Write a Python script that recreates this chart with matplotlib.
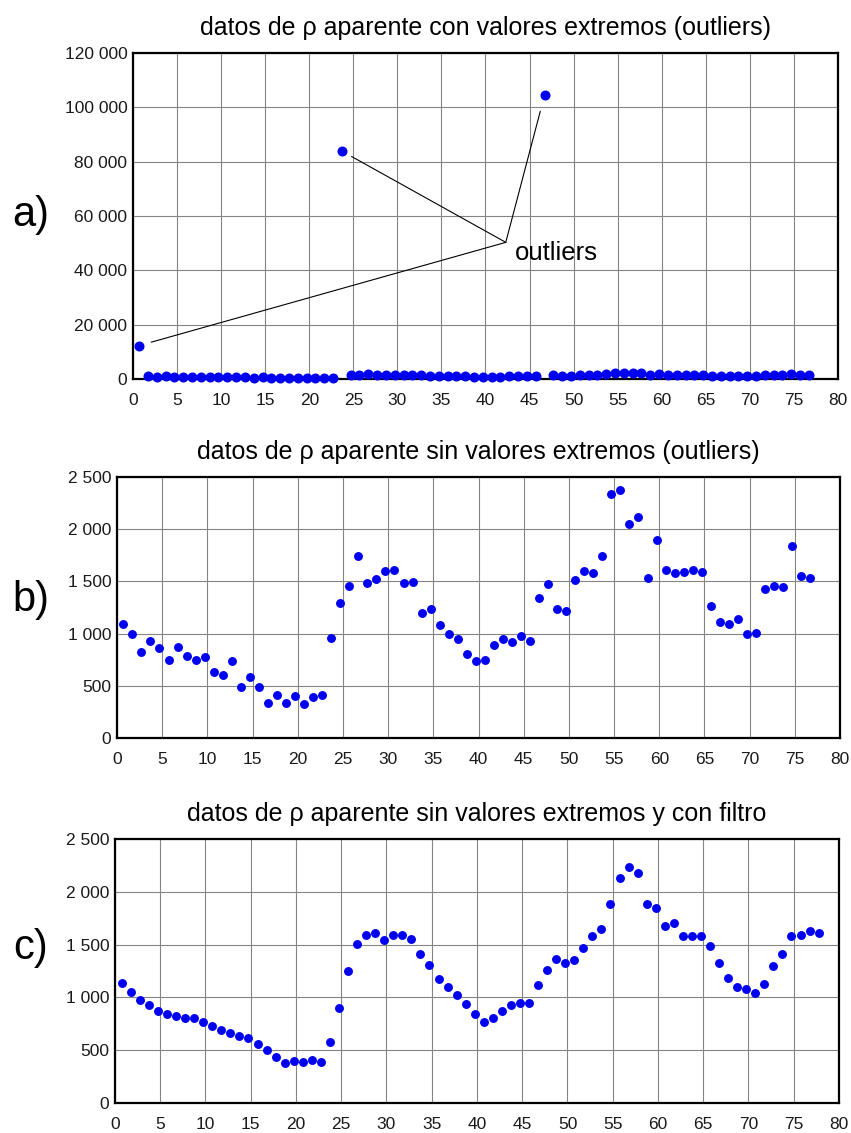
"""
Apparent resistivity series: raw, outliers removed, and filtered
"""
import numpy as np
import matplotlib
matplotlib.use("Agg")
import matplotlib.pyplot as plt
from matplotlib.ticker import FuncFormatter, MultipleLocator

plt.rcParams['font.family'] = ['Liberation Sans', 'DejaVu Sans']

# apparent resistivity without outliers (outliers replaced)
rho_clean = [
    1095, 993, 827, 932, 859, 750, 868, 785, 744, 779,
    635, 600, 734, 485, 587, 485, 338, 412, 332, 405,
    322, 393, 415, 961, 1293, 1459, 1747, 1488, 1526, 1600,
    1612, 1482, 1494, 1197, 1236, 1086, 996, 952, 801, 734,
    747, 894, 952, 923, 977, 929, 1344, 1475, 1236, 1220,
    1517, 1600, 1584, 1747, 2340, 2379, 2050, 2117, 1533, 1900,
    1609, 1584, 1593, 1606, 1593, 1268, 1108, 1092, 1143, 996,
    1006, 1424, 1456, 1443, 1836, 1552, 1533,
]

# the raw series: same samples, with the extreme readings
outlier_idx = [1, 24, 47]
outlier_val = [12300, 83900, 104500]

# filtered series
rho_filtered = [
    1134, 1049, 973, 929, 873, 844, 828, 803, 803, 765,
    728, 687, 661, 636, 614, 558, 498, 432, 378, 400,
    387, 406, 384, 576, 898, 1247, 1506, 1594, 1613, 1547,
    1594, 1588, 1550, 1411, 1310, 1175, 1102, 1021, 936, 838,
    769, 806, 873, 929, 948, 948, 1115, 1263, 1364, 1329,
    1351, 1471, 1581, 1644, 1881, 2133, 2237, 2180, 1884, 1843,
    1673, 1701, 1581, 1581, 1578, 1490, 1326, 1184, 1102, 1084,
    1046, 1131, 1298, 1414, 1581, 1591, 1632, 1610,
]

TITLES = [
    "datos de ρ aparente con valores extremos (outliers)",
    "datos de ρ aparente sin valores extremos (outliers)",
    "datos de ρ aparente sin valores extremos y con filtro",
]
LETTERS = ["a)", "b)", "c)"]
DOT = "#0000f0"


def thousands(value, _pos):
    """format ticks as 120 000"""
    return "{:,}".format(int(value)).replace(",", " ")


def style_axes(ax, ymax, ystep, title):
    """grid, spines and ticks shared by all three panels"""
    ax.set_xlim(0, 80)
    ax.set_ylim(0, ymax)
    ax.xaxis.set_major_locator(MultipleLocator(5))
    ax.yaxis.set_major_locator(MultipleLocator(ystep))
    ax.yaxis.set_major_formatter(FuncFormatter(thousands))
    ax.grid(True, color="#858585", linewidth=0.8)
    ax.set_axisbelow(True)
    for spine in ax.spines.values():
        spine.set_linewidth(1.6)
    ax.tick_params(axis="both", length=0, labelsize=12.5, colors="#1a1a1a")
    ax.tick_params(axis="x", pad=10)
    ax.tick_params(axis="y", pad=4)
    ax.set_title(title, fontsize=18, pad=13)


fig = plt.figure(figsize=(8.51, 11.33), dpi=100)
ax_a = fig.add_axes([0.1563, 0.6655, 0.8284, 0.2877])
ax_b = fig.add_axes([0.1375, 0.3486, 0.8496, 0.2304])
ax_c = fig.add_axes([0.1351, 0.0265, 0.8508, 0.2330])

# sample positions along the profile
x_clean = np.arange(1, len(rho_clean) + 1) - 0.3
x_filt = np.arange(1, len(rho_filtered) + 1) - 0.25

rho_raw = list(rho_clean)
for idx, val in zip(outlier_idx, outlier_val):
    rho_raw[idx - 1] = val

# a) raw data
ax_a.plot(x_clean, rho_raw, "o", color=DOT, markersize=6.2, zorder=3,
          clip_on=False)
style_axes(ax_a, 120000, 20000, TITLES[0])

# lines from the label to each outlier
hub = (42.3, 50300)
for idx, val, shrink in zip(outlier_idx, outlier_val, [9, 8, 12]):
    ax_a.annotate("", xy=(x_clean[idx - 1], val), xytext=hub,
                  arrowprops=dict(arrowstyle="-", color="black", lw=0.8,
                                  shrinkA=0, shrinkB=shrink))
ax_a.text(43.3, 46500, "outliers", fontsize=18.5, va="center", ha="left")

# b) outliers removed
ax_b.plot(x_clean, rho_clean, "o", color=DOT, markersize=5.4, zorder=3)
style_axes(ax_b, 2500, 500, TITLES[1])

# c) filtered
ax_c.plot(x_filt, rho_filtered, "o", color=DOT, markersize=5.4, zorder=3)
style_axes(ax_c, 2500, 500, TITLES[2])

for letter, ypix in zip(LETTERS, [215, 600, 948]):
    fig.text(31 / 851, 1 - ypix / 1133, letter, fontsize=30,
             ha="center", va="center")

fig.savefig("out.png", dpi=100)
plt.close(fig)
